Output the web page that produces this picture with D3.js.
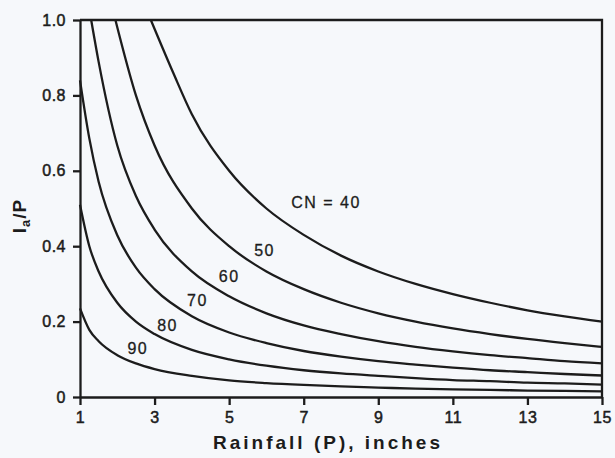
<!DOCTYPE html>
<html>
<head>
    <meta charset="utf-8">
    <style>
        body { margin: 0; background: #f6f8fb; }
        svg { font-family: "Liberation Sans", Arial, sans-serif; }
        .curve { fill: none; stroke: #1c1c1c; stroke-width: 2.3px; }
        .axis path, .axis line { stroke: #1c1c1c; stroke-width: 2.3px; }
        .axis text { font-size: 16px; fill: #1c1c1c; stroke: #1c1c1c; stroke-width: 0.5px; letter-spacing: 0.5px; }
        .cn-label { font-size: 16px; fill: #1c1c1c; stroke: #1c1c1c; stroke-width: 0.3px; letter-spacing: 1.5px; }
        .axis-title { font-size: 19px; font-weight: bold; fill: #1c1c1c; letter-spacing: 3px; }
    </style>
</head>
<body>
<div id="chart"></div>
<script src="https://cdn.jsdelivr.net/npm/d3@7"></script>
<script>

    // rainfall values (inches) and Ia/P for each curve
    var cn40P = [2.9, 3.5, 4, 5, 6, 7, 8, 9, 10, 11, 12, 13, 14, 15];
    var cn40 = [1.0, 0.86, 0.75, 0.6, 0.5, 0.43, 0.375, 0.333, 0.3, 0.273, 0.25, 0.23, 0.214, 0.2];

    var cn50P = [1.95, 2.5, 3, 4, 5, 6, 7, 8, 9, 10, 11, 12, 13, 14, 15];
    var cn50 = [1.0, 0.8, 0.667, 0.5, 0.4, 0.333, 0.286, 0.25, 0.222, 0.2, 0.182, 0.167, 0.154, 0.143, 0.133];

    var cn60P = [1.3, 1.5, 2, 2.5, 3, 4, 5, 6, 7, 8, 9, 10, 11, 12, 13, 14, 15];
    var cn60 = [1.0, 0.889, 0.667, 0.533, 0.444, 0.333, 0.267, 0.222, 0.19, 0.167, 0.148, 0.133, 0.121, 0.111, 0.103, 0.095, 0.089];

    var lowP = [1, 1.25, 1.5, 2, 2.5, 3, 4, 5, 6, 7, 8, 9, 10, 11, 12, 13, 14, 15];
    var cn70 = [0.84, 0.686, 0.571, 0.429, 0.343, 0.286, 0.214, 0.171, 0.143, 0.122, 0.107, 0.095, 0.086, 0.078, 0.071, 0.066, 0.061, 0.057];
    var cn80 = [0.51, 0.4, 0.333, 0.25, 0.2, 0.167, 0.125, 0.1, 0.083, 0.071, 0.0625, 0.056, 0.05, 0.045, 0.042, 0.038, 0.036, 0.033];
    var cn90 = [0.235, 0.178, 0.148, 0.111, 0.089, 0.074, 0.056, 0.044, 0.037, 0.032, 0.028, 0.025, 0.022, 0.02, 0.019, 0.017, 0.016, 0.015];

    var cnLabels = ["CN = 40", "50", "60", "70", "80", "90"];
    // where each label sits, in data units (P, Ia/P)
    var labelP = [7.6, 5.95, 5.0, 4.15, 3.35, 2.55];
    var labelY = [0.515, 0.39, 0.32, 0.255, 0.19, 0.13];

    var xTicks = [1, 3, 5, 7, 9, 11, 13, 15];
    var yTicks = [0, 0.2, 0.4, 0.6, 0.8, 1.0];

    var width = 615, height = 458;
    var margin = {left: 80, right: 13, top: 20, bottom: 61};

    var svg = d3.select("#chart").append("svg")
        .attr("width", width)
        .attr("height", height);

    var x = d3.scaleLinear().domain([1, 15]).range([margin.left, width - margin.right]);
    var y = d3.scaleLinear().domain([0, 1]).range([height - margin.bottom, margin.top]);

    var series = [
        {p: cn40P, v: cn40},
        {p: cn50P, v: cn50},
        {p: cn60P, v: cn60},
        {p: lowP, v: cn70},
        {p: lowP, v: cn80},
        {p: lowP, v: cn90}
    ];

    var line = d3.line()
        .x(function (d) { return x(d[0]); })
        .y(function (d) { return y(d[1]); })
        .curve(d3.curveMonotoneX);

    svg.append("g").selectAll("path.curve")
        .data(series)
        .enter()
        .append("path")
        .attr("class", "curve")
        .attr("d", function (s) {
            return line(s.p.map(function (p, i) { return [p, s.v[i]]; }));
        });

    // frame: top and right border
    svg.append("path")
        .attr("class", "curve")
        .attr("d", "M" + x(1) + "," + y(1) + "H" + x(15) + "V" + y(0));

    svg.append("g")
        .attr("class", "axis")
        .attr("transform", "translate(0," + y(0) + ")")
        .call(d3.axisBottom(x).tickValues(xTicks).tickSize(8).tickSizeOuter(0).tickPadding(7));

    svg.append("g")
        .attr("class", "axis")
        .attr("transform", "translate(" + x(1) + ",0)")
        .call(d3.axisLeft(y).tickValues(yTicks).tickSize(7).tickSizeOuter(0).tickPadding(7)
            .tickFormat(function (d) { return d === 0 ? "0" : d3.format(".1f")(d); }));

    svg.append("g").selectAll("text.cn-label")
        .data(cnLabels)
        .enter()
        .append("text")
        .attr("class", "cn-label")
        .attr("x", function (d, i) { return x(labelP[i]); })
        .attr("y", function (d, i) { return y(labelY[i]); })
        .attr("text-anchor", "middle")
        .attr("dy", "0.35em")
        .text(function (d) { return d; });

    svg.append("text")
        .attr("class", "axis-title")
        .attr("x", 328)
        .attr("y", 449)
        .attr("text-anchor", "middle")
        .text("Rainfall (P), inches");

    var yTitle = svg.append("text")
        .attr("class", "axis-title")
        .attr("transform", "translate(26,216) rotate(-90)")
        .attr("text-anchor", "middle")
        .style("letter-spacing", "1px");
    yTitle.append("tspan").text("I");
    yTitle.append("tspan").attr("dy", 4).attr("font-size", "13px").text("a");
    yTitle.append("tspan").attr("dy", -4).text("/P");

</script>
</body>
</html>
